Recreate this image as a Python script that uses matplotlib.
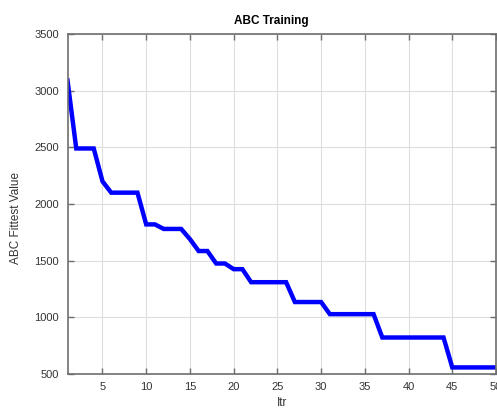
import matplotlib.pyplot as plt

# Best fitness value per iteration of the ABC run
itr = list(range(1, 51))
fittest = [3090, 2490, 2490, 2490, 2200, 2100, 2100, 2100, 2100, 1820,
           1820, 1780, 1780, 1780, 1690, 1585, 1585, 1475, 1475, 1425,
           1425, 1310, 1310, 1310, 1310, 1310, 1135, 1135, 1135, 1135,
           1028, 1028, 1028, 1028, 1028, 1028, 822, 822, 822, 822,
           822, 822, 822, 822, 558, 558, 558, 558, 558, 558]

xticks = [5, 10, 15, 20, 25, 30, 35, 40, 45, 50]
yticks = [500, 1000, 1500, 2000, 2500, 3000, 3500]

plt.rcParams['font.family'] = ['Liberation Sans', 'DejaVu Sans']

W, H = 497, 409
fig = plt.figure(figsize=(W / 100, H / 100), dpi=100)
ax = fig.add_axes([67.5 / W, 1 - 374 / H, (496 - 67.5) / W, (374 - 34) / H])

ax.plot(itr, fittest, color='#0000ff', lw=3.2, solid_joinstyle='miter')

ax.set_xlim(1, 50)
ax.set_ylim(500, 3500)
ax.set_xticks(xticks)
ax.set_yticks(yticks)
ax.grid(True, color='#dedede', lw=0.8)
ax.set_axisbelow(True)

for s in ax.spines.values():
    s.set_color('#6e6e6e')
    s.set_linewidth(1.2)
ax.tick_params(direction='in', length=4, width=1, color='#6e6e6e',
               labelsize=8, labelcolor='#333333', top=True, right=True, pad=6)

ax.set_title('ABC Training', fontsize=8.5, fontweight='bold', pad=7, x=0.475)
ax.set_xlabel('Itr', fontsize=8.5, color='#333333', labelpad=3)
ax.set_ylabel('ABC Fittest Value', fontsize=8.5, color='#333333')
ax.yaxis.set_label_coords(-0.106, 0.46)

fig.savefig('out.png', dpi=100)
